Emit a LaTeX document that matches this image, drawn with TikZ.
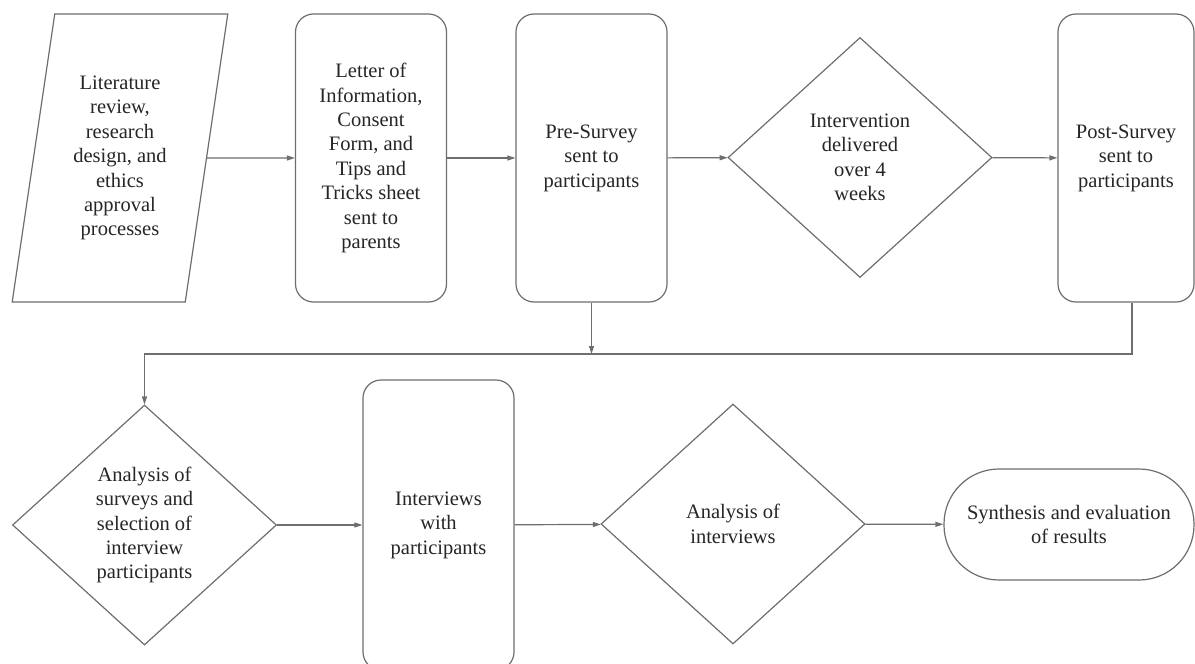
\documentclass[tikz,border=0pt]{standalone}
\usepackage{fontspec}
\setmainfont{Liberation Serif}
\usetikzlibrary{shapes.geometric,arrows.meta}
\definecolor{edgegray}{HTML}{6E6E6E}
\definecolor{inkgray}{HTML}{262626}
\tikzset{
  base/.style={draw=edgegray, line width=1.2pt, fill=white, text=inkgray, align=center,
    inner sep=0pt, font=\fontsize{20.5}{24.4}\selectfont},
  proc/.style={base, rectangle, rounded corners=18pt, minimum width=151pt, minimum height=288pt},
  decide/.style={base, diamond, minimum width=264pt, minimum height=240pt},
  inputbox/.style={base, trapezium, trapezium left angle=79.5, trapezium right angle=100.5,
    trapezium stretches=true, minimum width=216pt, minimum height=288pt},
  finish/.style={base, rectangle, rounded corners=55pt, minimum width=250pt, minimum height=111pt},
  flow/.style={draw=edgegray, line width=1.2pt, -{Triangle[length=8pt,width=5pt]}}
}
\begin{document}
\begin{tikzpicture}[x=1pt, y=-1pt]
    \useasboundingbox[fill=white] (0,0) rectangle (1195,664);
    
    \node[inputbox] (lit) at (120,158) {Literature\\review,\\research\\design, and\\ethics\\approval\\processes};
    \node[proc] (letter) at (371,158) {Letter of\\Information,\\Consent\\Form, and\\Tips and\\Tricks sheet\\sent to\\parents};
    \node[proc] (pre) at (591.5,158) {Pre-Survey\\sent to\\participants};
    \node[decide] (deliver) at (860,157.5) {Intervention\\delivered\\over 4\\weeks};
    \node[proc, minimum width=136pt] (post) at (1126,158) {Post-Survey\\sent to\\participants};
    
    \node[decide] (select) at (144.5,525) {Analysis of\\surveys and\\selection of\\interview\\participants};
    \node[proc, minimum height=290pt] (talk) at (438.5,525) {Interviews\\with\\participants};
    \node[decide] (review) at (733,524) {Analysis of\\interviews};
    \node[finish] (synth) at (1069,524.5) {Synthesis and evaluation\\of results};
    
    \coordinate (bus) at (0,354);
    \coordinate (drop) at ([xshift=6pt]post.south);
    
    \draw[flow] (lit) -- (letter);
    \draw[flow] (letter) -- (pre);
    \draw[flow] (pre) -- (deliver);
    \draw[flow] (deliver) -- (post);
    \draw[flow] (pre.south) -- (pre.south |- bus);
    \draw[flow] (drop) -- (drop |- bus) -- (select.north |- bus) -- (select.north);
    \draw[flow] (select) -- (talk);
    \draw[flow] (talk) -- (review);
    \draw[flow] (review) -- (synth);
    
\end{tikzpicture}
\end{document}
